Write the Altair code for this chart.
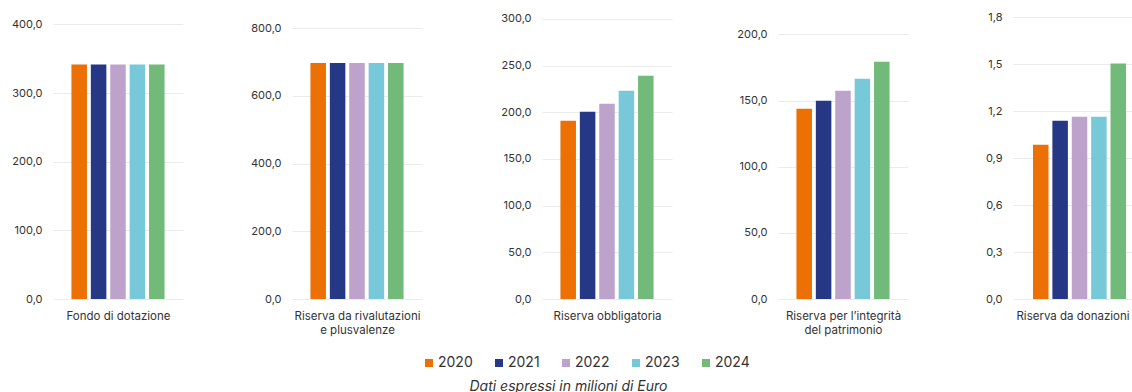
import altair as alt
import pandas as pd

years = ["2020", "2021", "2022", "2023", "2024"]
colors = ["#EC7004", "#253785", "#BDA3CC", "#77C9DA", "#72BA7A"]

categories = [
    ["Fondo di dotazione"],
    ["Riserva da rivalutazioni", "e plusvalenze"],
    ["Riserva obbligatoria"],
    ["Riserva per l’integrità", "del patrimonio"],
    ["Riserva da donazioni"],
]

fondo_dotazione = [341.6, 341.6, 341.6, 341.6, 341.6]
riserva_rivalutazioni = [697.6, 697.6, 697.6, 697.6, 697.6]
riserva_obbligatoria = [191.0, 200.7, 209.3, 223.2, 239.2]
riserva_integrita = [143.8, 149.9, 157.4, 166.5, 179.4]
riserva_donazioni = [0.985, 1.138, 1.164, 1.164, 1.503]
series = [fondo_dotazione, riserva_rivalutazioni, riserva_obbligatoria,
          riserva_integrita, riserva_donazioni]

tick_values = [
    [0, 100, 200, 300, 400],
    [0, 200, 400, 600, 800],
    [0, 50, 100, 150, 200, 250, 300],
    [0, 50, 100, 150, 200],
    [0, 0.3, 0.6, 0.9, 1.2, 1.5, 1.8],
]
domain_max = [410.8, 833.4, 302.1, 213.2, 1.8]
widths = [130, 130, 130, 130, 119]
extents = [48, 109, 120, 106, 105]
pad_outer = [0.95, 0.95, 0.95, 0.95, 0.67]
aligns = [0.5, 0.5, 0.5, 0.5, 0.77]

FONT = "Inter"
TXT = "#333333"

panels = []
for i in range(5):
    df = pd.DataFrame({"year": years, "value": series[i]})
    title = categories[i] if len(categories[i]) > 1 else categories[i][0]
    enc_color = alt.Color(
        "year:N",
        scale=alt.Scale(domain=years, range=colors),
        legend=alt.Legend(
            orient="none", legendX=369, legendY=339, direction="horizontal",
            title=None, symbolType="square", symbolSize=64, symbolStrokeWidth=0,
            labelFontSize=14, labelColor=TXT, labelFont=FONT, labelOffset=2,
            columnPadding=19,
        ) if i == 0 else None,
    )
    p = alt.Chart(df).mark_bar().encode(
        x=alt.X(
            "year:N",
            sort=years,
            scale=alt.Scale(paddingInner=0.2, paddingOuter=pad_outer[i], align=aligns[i]),
            axis=alt.Axis(labels=False, ticks=False, domain=False, grid=False, title=title,
                          titleFontSize=11.5, titleFontWeight="normal", titleColor=TXT,
                          titleFont=FONT, titlePadding=11, titleLineHeight=14),
        ),
        y=alt.Y(
            "value:Q",
            scale=alt.Scale(domain=[0, domain_max[i]], nice=False, zero=True),
            axis=alt.Axis(values=tick_values[i], title=None, domain=False, ticks=False,
                          grid=True, gridColor="#ebebeb", gridWidth=1,
                          labelExpr="replace(format(datum.value, '.1f'), '.', ',')",
                          labelFontSize=11, labelColor=TXT, labelFont=FONT,
                          labelPadding=11, minExtent=extents[i], maxExtent=extents[i]),
        ),
        color=enc_color,
    ).properties(width=widths[i], height=282)
    panels.append(p)

chart = alt.hconcat(*panels, spacing=0).properties(
    padding={"left": 5, "top": 11, "right": 0, "bottom": 0},
    title=alt.TitleParams("Dati espressi in milioni di Euro", orient="bottom",
                          fontStyle="italic", fontWeight="normal", fontSize=14,
                          color=TXT, font=FONT, anchor="middle", offset=10),
).configure(font=FONT).configure_view(stroke=None)

chart.save("out.html", embed_options={"renderer": "svg", "actions": False})
